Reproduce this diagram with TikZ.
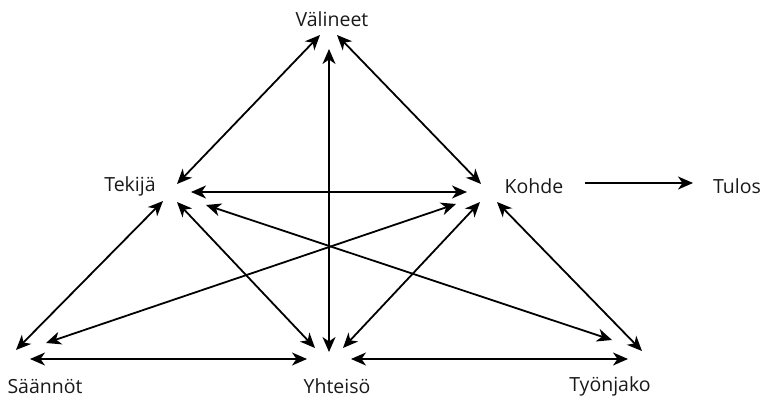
\documentclass[tikz,border=0pt]{standalone}
\usepackage{fontspec}
\setmainfont{Open Sans}
\usetikzlibrary{arrows.meta}
\begin{document}
\begin{tikzpicture}[x=1pt,y=-1pt,
  lbl/.style={font=\fontsize{19.5}{22}\selectfont, text=black!90, inner sep=0pt},
  tip/.style={},
  conn/.style={line width=1.8pt, {Stealth[length=15pt,width=13pt,inset=4.5pt]}-{Stealth[length=15pt,width=13pt,inset=4.5pt]}},
  oneway/.style={line width=1.8pt, -{Stealth[length=15pt,width=13pt,inset=4.5pt]}}]
\useasboundingbox (0,0) rectangle (761,399);
% labels
\node[lbl] (val) at (332,19) {Välineet};
\node[lbl] (tek) at (130,186) {Tekijä};
\node[lbl] (koh) at (534,186) {Kohde};
\node[lbl] (tul) at (737,186) {Tulos};
\node[lbl] (saa) at (45,386) {Säännöt};
\node[lbl] (yht) at (337,386) {Yhteisö};
\node[lbl] (tyo) at (610,386) {Työnjako};
% endpoints
\coordinate (vT) at (320,35);  \coordinate (tV) at (177,184);
\coordinate (vY) at (329,49);  \coordinate (yV) at (329,352);
\coordinate (vK) at (337,35);  \coordinate (kV) at (481,184);
\coordinate (tK) at (191,192); \coordinate (kT) at (467,192);
\coordinate (kR) at (585,183); \coordinate (rK) at (693,183);
\coordinate (tS) at (163,201); \coordinate (sT) at (16,350);
\coordinate (tY) at (177,202); \coordinate (yT) at (315,348);
\coordinate (tW) at (206,205); \coordinate (wT) at (612,340);
\coordinate (kS) at (456,204); \coordinate (sK) at (46,343);
\coordinate (kY) at (480,202); \coordinate (yK) at (343,348);
\coordinate (kW) at (497,202); \coordinate (wK) at (642,351);
\coordinate (sY) at (30,359);  \coordinate (yS) at (307,359);
\coordinate (yW) at (351,359); \coordinate (wY) at (628,359);
% connectors
\draw[conn] (vT) -- (tV);
\draw[conn] (vY) -- (yV);
\draw[conn] (vK) -- (kV);
\draw[conn] (tK) -- (kT);
\draw[oneway] (kR) -- (rK);
\draw[conn] (tS) -- (sT);
\draw[conn] (tY) -- (yT);
\draw[conn] (tW) -- (wT);
\draw[conn] (kS) -- (sK);
\draw[conn] (kY) -- (yK);
\draw[conn] (kW) -- (wK);
\draw[conn] (sY) -- (yS);
\draw[conn] (yW) -- (wY);
\end{tikzpicture}
\end{document}
